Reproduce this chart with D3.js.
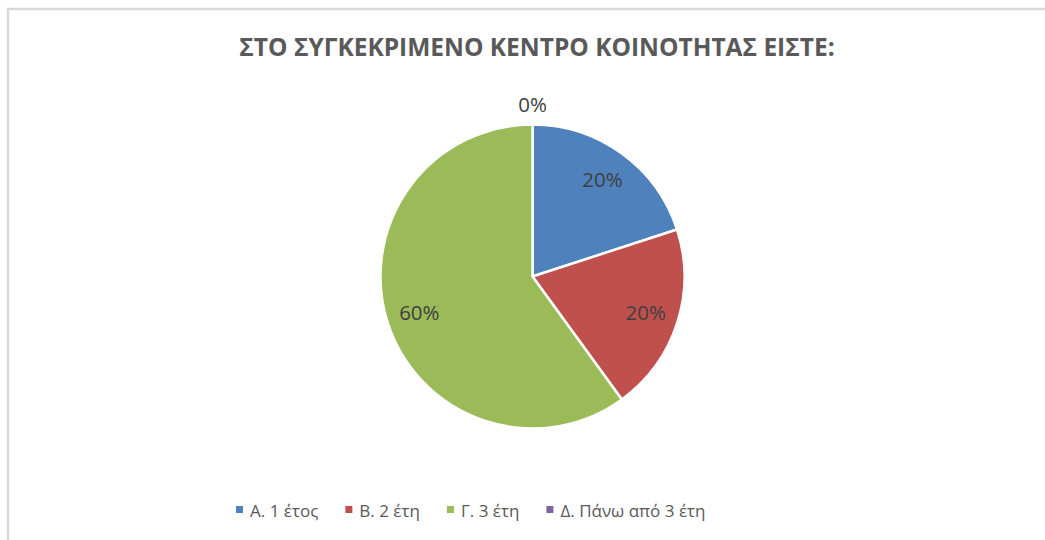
<!DOCTYPE html>
<html>
<head>
<meta charset="utf-8">
<script src="https://cdn.jsdelivr.net/npm/d3@7"></script>
<style>
  html, body { margin: 0; padding: 0; background: #fff; }
  svg { display: block; font-family: "Open Sans", "Noto Sans", sans-serif; }
</style>
</head>
<body>
<svg id="chart" width="1045" height="540"></svg>
<script>
// chart data
const title = 'ΣΤΟ ΣΥΓΚΕΚΡΙΜΕΝΟ ΚΕΝΤΡΟ ΚΟΙΝΟΤΗΤΑΣ ΕΙΣΤΕ:';
const categories = ['Α. 1 έτος', 'Β. 2 έτη', 'Γ. 3 έτη', 'Δ. Πάνω από 3 έτη'];
const values = [20, 20, 60, 0];
const colors = ['#4f81bd', '#c0504d', '#9bbb59', '#8064a2'];

const svg = d3.select('#chart');
const width = 1045, height = 540;

// chart frame (cropped on right/bottom like the reference)
svg.append('rect')
  .attr('x', 8).attr('y', 9)
  .attr('width', width + 20).attr('height', height + 20)
  .attr('fill', '#fff')
  .attr('stroke', '#d9d9d9')
  .attr('stroke-width', 2.5);

// title
svg.append('text')
  .attr('x', 537).attr('y', 56)
  .attr('text-anchor', 'middle')
  .attr('font-size', 24.5)
  .attr('font-weight', 'bold')
  .attr('fill', '#595959')
  .text(title);

// pie
const cx = 532.5, cy = 276.5, radius = 152;
const g = svg.append('g').attr('transform', `translate(${cx},${cy})`);

const pie = d3.pie().sort(null).value(d => d.value);
const data = pie(categories.map((c, i) => ({ name: c, value: values[i] })));
const color = d3.scaleOrdinal().domain(categories).range(colors);

const arc = d3.arc().innerRadius(0).outerRadius(radius);

g.selectAll('path.slice')
  .data(data.filter(d => d.value > 0))
  .enter()
  .append('path')
  .attr('class', 'slice')
  .attr('d', arc)
  .attr('fill', d => color(d.data.name))
  .attr('stroke', '#fff')
  .attr('stroke-width', 2.5)
  .attr('stroke-linejoin', 'round');

// labels: inside for real slices, outside for the empty one
const labelIn = d3.arc().innerRadius(119).outerRadius(119);
const labelOut = d3.arc().innerRadius(172).outerRadius(172);
const fmt = d => Math.round(d.value / d3.sum(values) * 100) + '%';

g.selectAll('text.label')
  .data(data)
  .enter()
  .append('text')
  .attr('class', 'label')
  .attr('transform', d => `translate(${(d.value > 0 ? labelIn : labelOut).centroid(d)})`)
  .attr('text-anchor', 'middle')
  .attr('dy', '0.35em')
  .attr('font-size', 20.5)
  .attr('fill', '#404040')
  .text(fmt);

// legend
const legend = svg.append('g').attr('transform', 'translate(236,517)');
let lx = 0;
categories.forEach((c, i) => {
  const item = legend.append('g').attr('transform', `translate(${lx},0)`);
  item.append('rect')
    .attr('x', 0).attr('y', -11)
    .attr('width', 7).attr('height', 7)
    .attr('fill', colors[i]);
  const t = item.append('text')
    .attr('x', 14).attr('y', 0)
    .attr('font-size', 17)
    .attr('fill', '#595959')
    .text(c);
  lx += 14 + t.node().getComputedTextLength() + 27;
});
</script>
</body>
</html>
